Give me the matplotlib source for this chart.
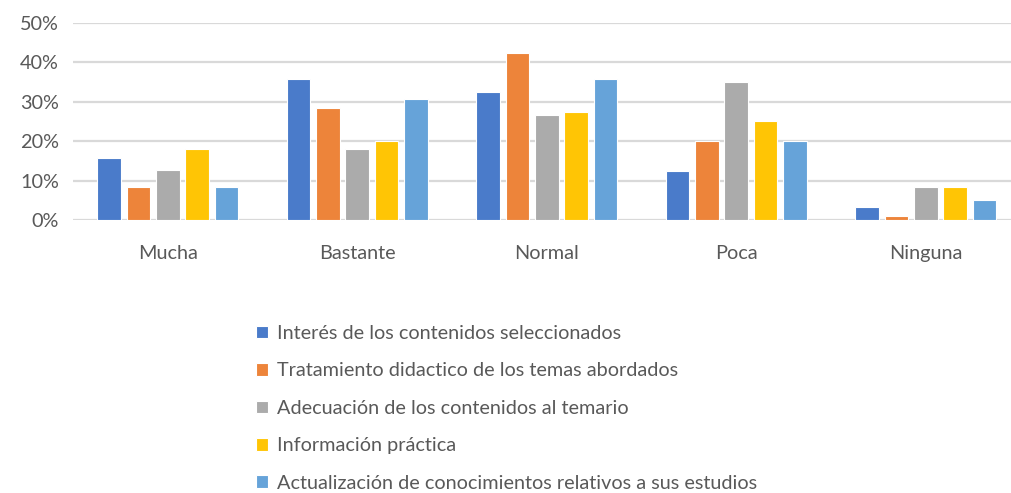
import numpy as np
import matplotlib.pyplot as plt

# categories and series (share of responses)
categories = ['Mucha', 'Bastante', 'Normal', 'Poca', 'Ninguna']
series_names = [
    'Interés de los contenidos seleccionados',
    'Tratamiento didactico de los temas abordados',
    'Adecuación de los contenidos al temario',
    'Información práctica',
    'Actualización de conocimientos relativos a sus estudios',
]
interes = [15.8, 35.8, 32.5, 12.5, 3.3]
tratamiento = [8.3, 28.3, 42.2, 20.0, 0.9]
adecuacion = [12.6, 18.0, 26.5, 34.9, 8.3]
informacion = [18.0, 20.0, 27.4, 25.2, 8.3]
actualizacion = [8.3, 30.6, 35.8, 20.0, 5.1]
values = [interes, tratamiento, adecuacion, informacion, actualizacion]
colors = ['#4A7BCA', '#ED843A', '#ABABAB', '#FFC505', '#66A3D9']
yticks = [0, 10, 20, 30, 40, 50]

plt.rcParams['font.family'] = ['Lato', 'DejaVu Sans']

fig = plt.figure(figsize=(10.11, 4.93), dpi=100)
W, H = 1011, 493
left, right = 73, 1011
bottom, top = 220, 22.7
ax = fig.add_axes([left / W, 1 - bottom / H, (right - left) / W, (bottom - top) / H])

x = np.arange(len(categories))
step = 0.155
width = 0.125
for i, (vals, name, c) in enumerate(zip(values, series_names, colors)):
    ax.bar(x + (i - 2) * step, vals, width, color=c, label=name,
           edgecolor='white', linewidth=0.8, zorder=3)

ax.set_xlim(-0.5, -0.5 + (right - left) / 189.5)
ax.set_ylim(0, 50)
ax.set_yticks(yticks)
ax.set_yticklabels([f'{v}%' for v in yticks])
ax.set_xticks(x)
ax.set_xticklabels(categories)
ax.tick_params(axis='both', length=0, labelsize=14.3, colors='#595959')
ax.tick_params(axis='x', pad=18)
ax.tick_params(axis='y', pad=10)
ax.grid(axis='y', color='#D9D9D9', linewidth=1.6, zorder=0)
for s in ax.spines.values():
    s.set_visible(False)

leg = fig.legend(loc='upper left', bbox_to_anchor=(246 / W, 1 - 315 / H),
                 frameon=False, fontsize=14.3, labelcolor='#595959',
                 handlelength=0.6, handleheight=0.6, handletextpad=0.45,
                 labelspacing=1.03, borderpad=0)

fig.savefig('out.png', dpi=100)
